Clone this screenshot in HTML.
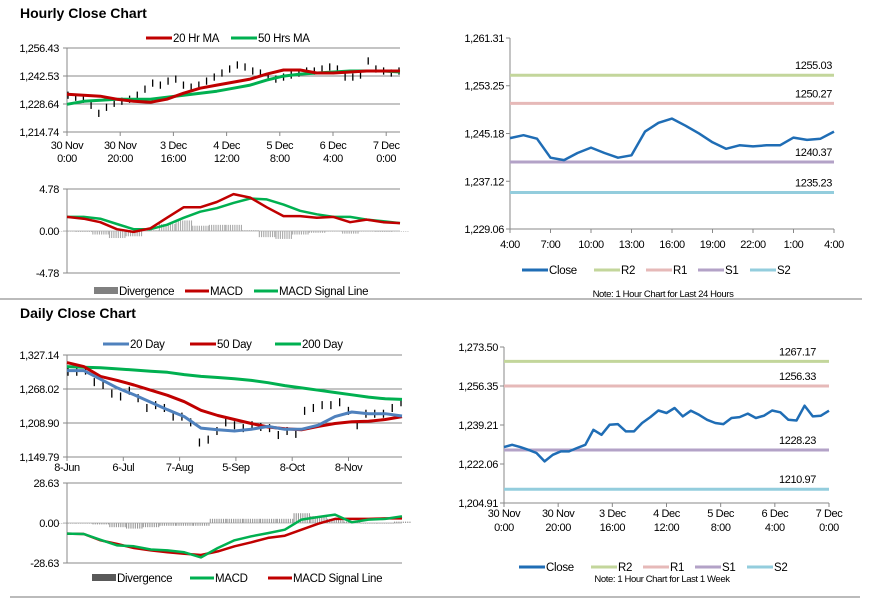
<!DOCTYPE html>
<html><head><meta charset="utf-8">
<style>
body{margin:0;background:#fff;}
svg{display:block;font-family:"Liberation Sans",Arial,sans-serif;}
text{fill:#000;}
.tk{font-size:11px;letter-spacing:-0.4px;}
.lg{font-size:11.5px;letter-spacing:-0.3px;}
.ttl{font-size:14px;font-weight:bold;}
</style></head>
<body>
<svg id="c" width="873" height="601" viewBox="0 0 873 601">
<text x="20" y="18" class="ttl">Hourly Close Chart</text>
<text x="20" y="318" class="ttl">Daily Close Chart</text>
<line x1="0" y1="299" x2="862" y2="299" stroke="#777" stroke-width="1"/>
<line x1="10" y1="597" x2="860" y2="597" stroke="#777" stroke-width="1"/>
</svg>
<script>
// ---------- DATA ----------
const hClose=[1233,1232,1231,1228,1224,1227,1229,1230,1231,1233,1236,1239,1238,1240,1241,1238,1237,1238,1240,1242,1244,1246,1248,1247,1245,1244,1242,1241,1242,1243,1244,1245,1245,1246,1247,1246,1242,1242,1243,1250,1246,1245,1244,1245];
const hMA20=[1233.5,1233,1232.5,1231,1230,1229.5,1231,1234,1236.5,1238,1239.5,1241,1243.5,1245.5,1245.5,1244,1244,1244.5,1245,1245,1245];
const hMA50=[1228.5,1230,1230.5,1231,1231,1231,1232,1233,1234,1235,1236.5,1238,1240.5,1242.5,1243.5,1244,1244.5,1245,1245,1245,1244.5];
const hXLabels=[["30 Nov","0:00"],["30 Nov","20:00"],["3 Dec","16:00"],["4 Dec","12:00"],["5 Dec","8:00"],["6 Dec","4:00"],["7 Dec","0:00"]];
const hYTicks=["1,214.74","1,228.64","1,242.53","1,256.43"];
const hMacd=[1.6,1.4,1.0,0.2,-0.1,0.3,1.5,2.7,2.7,3.3,4.2,3.8,2.7,1.7,1.7,1.5,1.6,1.0,1.3,1.0,0.9];
const hSignal=[1.6,1.6,1.4,0.8,0.2,0.2,0.7,1.5,2.2,2.6,3.2,3.7,3.6,3.0,2.3,1.9,1.6,1.6,1.3,1.1,0.9];
const hDiv=[0,-0.1,-0.4,-0.8,-0.6,0.1,0.8,1.2,0.6,0.7,0.7,0.1,-0.7,-0.9,-0.4,-0.2,0,-0.3,0,-0.1,0];
const hMacdTicks=["-4.78","0.00","4.78"];

const dClose=[1298,1298,1300,1280,1275,1260,1255,1265,1252,1235,1240,1235,1220,1220,1210,1175,1180,1195,1210,1205,1200,1205,1202,1200,1188,1195,1190,1230,1235,1240,1240,1245,1230,1205,1225,1225,1225,1235,1245];
const dMA20=[1300,1300,1285,1270,1258,1245,1232,1220,1200,1197,1195,1198,1203,1198,1198,1205,1220,1228,1225,1225,1221];
const dMA50=[1314,1307,1290,1283,1275,1266,1257,1246,1231,1222,1215,1208,1202,1199,1197,1203,1208,1211,1212,1215,1220];
const dMA200=[1307,1306,1305,1303,1301,1299,1297,1293,1290,1288,1286,1283,1279,1274,1270,1266,1262,1258,1254,1251,1250];
const dXLabels=["8-Jun","6-Jul","7-Aug","5-Sep","8-Oct","8-Nov"];
const dYTicks=["1,149.79","1,208.90","1,268.02","1,327.14"];
const dMacd=[-7.6,-7.9,-12,-16,-16.7,-19,-19.6,-21,-24.6,-17.9,-12.4,-9.5,-7.2,-4.8,2.4,4.3,6,0.5,2.4,2.9,4.8];
const dSignal=[-7.6,-7.9,-12.4,-15,-17.9,-19.6,-21,-22,-22.9,-20.3,-16.7,-13.8,-10.7,-9.1,-4.8,-0.5,2.9,2.9,2.9,3.3,3.3];
const dDiv=[0,0,-1,-3,-4,-3,-2,-2,-2,3,3,3,3,3,7,5,3,1,0,0,1];
const dMacdTicks=["-28.63","0.00","28.63"];

const r1Close=[1244.4,1244.9,1244.3,1241.1,1240.7,1241.9,1242.8,1241.9,1241.1,1241.5,1245.5,1247.0,1247.7,1246.5,1245.2,1243.7,1242.6,1243.2,1243.0,1243.2,1243.2,1244.5,1244.1,1244.3,1245.5];
const r1Levels=[1255.03,1250.27,1240.37,1235.23];
const r1XLabels=["4:00","7:00","10:00","13:00","16:00","19:00","22:00","1:00","4:00"];
const r1YTicks=["1,229.06","1,237.12","1,245.18","1,253.25","1,261.31"];

const r2Close=[1229.5,1230.5,1229.5,1228.3,1226.9,1223.2,1226.1,1227.6,1227.6,1229.1,1230.5,1237.1,1234.9,1239.3,1239.6,1236.4,1236.4,1240.1,1242.7,1245.6,1244.5,1246.7,1243.0,1245.5,1243.7,1241.5,1240.1,1239.6,1242.3,1242.7,1244.2,1242.3,1243.3,1245.6,1244.8,1241.5,1241.2,1247.7,1243.0,1243.3,1245.5];
const r2Levels=[1267.17,1256.33,1228.23,1210.97];
const r2XLabels=[["30 Nov","0:00"],["30 Nov","20:00"],["3 Dec","16:00"],["4 Dec","12:00"],["5 Dec","8:00"],["6 Dec","4:00"],["7 Dec","0:00"]];
const r2YTicks=["1,204.91","1,222.06","1,239.21","1,256.35","1,273.50"];

const levelNames=["R2","R1","S1","S2"];
const levelColors=["#c3d69b","#e6b9b8","#b3a2c7","#93cddd"];

// ---------- HELPERS ----------
const svg=document.getElementById('c');
const NS="http://www.w3.org/2000/svg";
function mk(tag,at,parent){const e=document.createElementNS(NS,tag);for(const k in at)e.setAttribute(k,at[k]);(parent||svg).appendChild(e);return e;}
function txt(x,y,s,cls,anchor){const t=mk('text',{x:x,y:y,class:cls,'text-anchor':anchor||'start'});t.textContent=s;return t;}
function lin(min,max,p0,p1){return v=>p0+(v-min)/(max-min)*(p1-p0);}
function num(s){return parseFloat(s.replace(/,/g,''));}
function poly(arr,xs,ys,color,w,name){
  const pts=arr.map((v,i)=>xs(i).toFixed(1)+','+ys(v).toFixed(1)).join(' ');
  const p=mk('polyline',{points:pts,fill:'none',stroke:color,'stroke-width':w,'stroke-linejoin':'round'});
  
  
  return p;
}
function legendItem(x,y,color,label,w,name,bar){
  const g=mk('g',{});
  
  
  if(bar) mk('rect',{x:x,y:y-4,width:w,height:7,fill:color},g);
  else mk('line',{x1:x,y1:y,x2:x+w,y2:y,stroke:color,'stroke-width':3},g);
  const t=mk('text',{x:x+w+1,y:y+4,class:'lg'},g);t.textContent=label;
}
function vaxis(x,y0,y1){
  const a=mk('line',{x1:x,y1:y0,x2:x,y2:y1,stroke:'#888'});
  
  
}
function divBars(arr,xm,ys,step,color){
  arr.forEach((v,i)=>{
    const g=mk('g',{});
    
    
    const y=ys(Math.max(v,0)),h=Math.max(Math.abs(ys(v)-ys(0)),0.6);
    for(let k=-step/2;k<step/2;k+=2.2){
      mk('rect',{x:xm(i)+k,y:y,width:1.1,height:h,fill:color},g);
    }
  });
}
function priceBars(arr,xc,ys,spread){
  arr.forEach((v,i)=>{const b=mk('line',{x1:xc(i),y1:ys(v+spread),x2:xc(i),y2:ys(v-spread),stroke:'#000','stroke-width':1.3});
    
    });
}

// ---------- HOURLY PRICE ----------
(function(){
  const X0=67,X1=400,Y0=132,Y1=48;
  const ys=lin(num(hYTicks[0]),num(hYTicks[hYTicks.length-1]),Y0,Y1);
  hYTicks.forEach(t=>{const y=ys(num(t));
    const g=mk('line',{x1:X0-4,y1:y,x2:X1,y2:y,stroke:'#888'});
    
    
    txt(X0-8,y+4,t,'tk','end');});
  vaxis(X0,Y1,Y0);
  hXLabels.forEach((l,i)=>{const x=X0+i*53.2;
    mk('line',{x1:x,y1:Y0,x2:x,y2:Y0+4,stroke:'#888'});
    txt(x,Y0+17,l[0],'tk','middle');txt(x,Y0+30,l[1],'tk','middle');});
  const xc=lin(0,hClose.length-1,X0+1,X1-1);
  priceBars(hClose,xc,ys,1.8);
  const xm=lin(0,hMA20.length-1,X0,X1);
  poly(hMA50,xm,ys,'#00b050',3,'50-hr-ma-line');
  poly(hMA20,xm,ys,'#c00000',3,'20-hr-ma-line');
  legendItem(146,38,'#c00000','20 Hr MA',26,'legend-20-hr-ma');
  legendItem(231,38,'#00b050','50 Hrs MA',26,'legend-50-hrs-ma');
})();

// ---------- HOURLY MACD ----------
(function(){
  const X0=67,X1=400,Y0=273,Y1=189;
  const ys=lin(num(hMacdTicks[0]),num(hMacdTicks[2]),Y0,Y1);
  hMacdTicks.forEach(t=>{const y=ys(num(t));
    mk('line',{x1:X0-4,y1:y,x2:X1,y2:y,stroke:t==='0.00'?'#bbb':'#888'});
    txt(X0-8,y+4,t,'tk','end');});
  vaxis(X0,Y1,Y0);
  const xm=lin(0,hMacd.length-1,X0,X1);
  divBars(hDiv,xm,ys,16,'#aaa');
  poly(hSignal,xm,ys,'#00b050',2.5,'macd-signal-line');
  poly(hMacd,xm,ys,'#c00000',2.5,'macd-line');
  legendItem(94,291,'#808080','Divergence',24,'legend-divergence',true);
  legendItem(185,291,'#c00000','MACD',24,'legend-macd');
  legendItem(254,291,'#00b050','MACD Signal Line',24,'legend-macd-signal');
})();

// ---------- DAILY PRICE ----------
(function(){
  const X0=67,X1=402,Y0=457,Y1=355;
  const ys=lin(num(dYTicks[0]),num(dYTicks[3]),Y0,Y1);
  dYTicks.forEach(t=>{const y=ys(num(t));
    mk('line',{x1:X0-4,y1:y,x2:X1,y2:y,stroke:'#888'});
    txt(X0-8,y+4,t,'tk','end');});
  vaxis(X0,Y1,Y0);
  dXLabels.forEach((l,i)=>{const x=X0+i*56.3;
    mk('line',{x1:x,y1:Y0,x2:x,y2:Y0+4,stroke:'#888'});
    txt(x,Y0+14,l,'tk','middle');});
  const xc=lin(0,dClose.length-1,X0+1,X1-1);
  priceBars(dClose,xc,ys,7);
  const xm=lin(0,dMA20.length-1,X0,X1);
  poly(dMA200,xm,ys,'#00b050',3,'200-day-ma-line');
  poly(dMA50,xm,ys,'#c00000',3,'50-day-ma-line');
  poly(dMA20,xm,ys,'#4f81bd',3,'20-day-ma-line');
  legendItem(103,344,'#4f81bd','20 Day',26,'legend-20-day');
  legendItem(190,344,'#c00000','50 Day',26,'legend-50-day');
  legendItem(275,344,'#00b050','200 Day',26,'legend-200-day');
})();

// ---------- DAILY MACD ----------
(function(){
  const X0=67,X1=402,Y0=563,Y1=483;
  const ys=lin(num(dMacdTicks[0]),num(dMacdTicks[2]),Y0,Y1);
  dMacdTicks.forEach(t=>{const y=ys(num(t));
    mk('line',{x1:X0-4,y1:y,x2:X1,y2:y,stroke:t==='0.00'?'#bbb':'#888'});
    txt(X0-8,y+4,t,'tk','end');});
  vaxis(X0,Y1,Y0);
  const xm=lin(0,dMacd.length-1,X0,X1);
  divBars(dDiv,xm,ys,16,'#999');
  poly(dSignal,xm,ys,'#c00000',2.5,'macd-signal-line');
  poly(dMacd,xm,ys,'#00b050',2.5,'macd-line');
  legendItem(92,578,'#595959','Divergence',24,'legend-divergence',true);
  legendItem(190,578,'#00b050','MACD',24,'legend-macd');
  legendItem(268,578,'#c00000','MACD Signal Line',24,'legend-macd-signal');
})();

// ---------- PIVOT CHARTS ----------
function pivot(o){
  const ys=lin(num(o.yt[0]),num(o.yt[o.yt.length-1]),o.Y0,o.Y1);
  o.yt.forEach(t=>{const y=ys(num(t));
    mk('line',{x1:o.X0-4,y1:y,x2:o.X0,y2:y,stroke:'#888'});
    txt(o.X0-6,y+4,t,'tk','end');});
  vaxis(o.X0,o.Y1,o.Y0);
  mk('line',{x1:o.X0,y1:o.Y0,x2:o.X1,y2:o.Y0,stroke:'#888'});
  const n=o.xl.length,step=(o.X1-o.X0)/(n-1);
  o.xl.forEach((l,i)=>{const x=o.X0+i*step;
    mk('line',{x1:x,y1:o.Y0,x2:x,y2:o.Y0+4,stroke:'#888'});
    if(Array.isArray(l)){txt(x,o.Y0+14,l[0],'tk','middle');txt(x,o.Y0+28,l[1],'tk','middle');}
    else txt(x,o.Y0+19,l,'tk','middle');});
  o.lv.forEach((v,i)=>{const y=ys(v);
    const l=mk('line',{x1:o.X0,y1:y,x2:o.X1,y2:y,stroke:levelColors[i],'stroke-width':3});
    
    
    txt(o.X1-o.lblOff,y-6,v.toFixed(2),'tk','end');});
  const xs=lin(0,o.c.length-1,o.X0,o.X1);
  poly(o.c,xs,ys,'#1f6db5',2.5,'close-line');
  let lx=o.legX;
  legendItem(lx,o.legY,'#1f6db5','Close',26,'legend-close');lx+=72;
  levelNames.forEach((nm,i)=>{legendItem(lx,o.legY,levelColors[i],nm,26,'legend-'+nm.toLowerCase());lx+=52;});
  const t=txt(o.noteX,o.noteY,o.note,'tk','middle');t.style.fontSize='9.5px';
  
  
}
pivot({X0:510,X1:834,Y0:229,Y1:38,yt:r1YTicks,xl:r1XLabels,lv:r1Levels,c:r1Close,lblOff:2,legX:522,legY:270,noteX:663,noteY:297,note:"Note: 1 Hour Chart for Last 24 Hours"});
pivot({X0:504,X1:829,Y0:503,Y1:347,yt:r2YTicks,xl:r2XLabels,lv:r2Levels,c:r2Close,lblOff:13,legX:519,legY:567,noteX:662,noteY:582,note:"Note: 1 Hour Chart for Last 1 Week"});
</script>
</body></html>
